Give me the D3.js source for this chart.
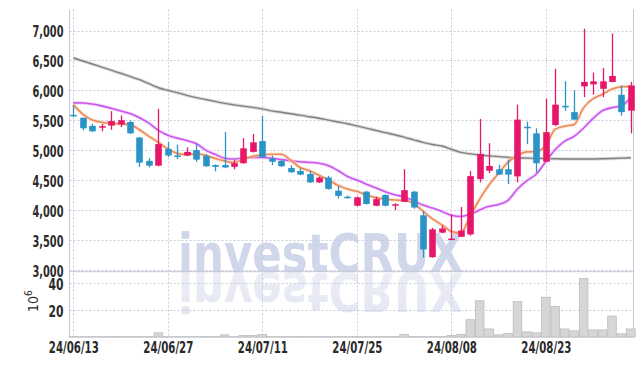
<!DOCTYPE html>
<html>
<head>
<meta charset="utf-8">
<script src="https://cdn.jsdelivr.net/npm/d3@7"></script>
<style>
  body { margin: 0; background: #fff; }
  text { font-family: "DejaVu Sans", sans-serif; }
</style>
</head>
<body>
<svg id="main-svg" width="643" height="366"></svg>
<script>
// trading days
const dates = [
    '24/06/13', '24/06/14', '24/06/17', '24/06/18', '24/06/19', '24/06/20', '24/06/21', '24/06/24', '24/06/25', '24/06/26',
    '24/06/27', '24/06/28', '24/07/01', '24/07/02', '24/07/03', '24/07/04', '24/07/05', '24/07/08', '24/07/09', '24/07/10',
    '24/07/11', '24/07/12', '24/07/15', '24/07/16', '24/07/17', '24/07/18', '24/07/19', '24/07/22', '24/07/23', '24/07/24',
    '24/07/25', '24/07/26', '24/07/29', '24/07/30', '24/07/31', '24/08/01', '24/08/02', '24/08/05', '24/08/06', '24/08/07',
    '24/08/08', '24/08/09', '24/08/12', '24/08/13', '24/08/14', '24/08/16', '24/08/19', '24/08/20', '24/08/21', '24/08/22',
    '24/08/23', '24/08/26', '24/08/27', '24/08/28', '24/08/29', '24/08/30', '24/09/02', '24/09/03', '24/09/04', '24/09/05'
];

const open = [5590, 5540, 5405, 5390, 5410, 5430, 5470, 5210, 4820, 4740,
    5020, 4910, 4910, 5000, 4905, 4750, 4750, 4720, 4780, 4970,
    5150, 4860, 4820, 4700, 4650, 4600, 4460, 4540, 4320, 4220,
    4070, 4305, 4070, 4250, 4080, 4135, 4305, 3910, 3210, 3620,
    3505, 3550, 3590, 4515, 4655, 4680, 4680, 4560, 5390, 5280,
    4805, 5420, 5740, 5635, 6065, 6100, 6025, 6140, 5925, 5660];
const high = [5745, 5545, 5440, 5440, 5650, 5580, 5495, 5220, 4865, 5690,
    5140, 5090, 5045, 5100, 4935, 4760, 5300, 4835, 5200, 5270,
    5570, 4905, 4830, 4745, 4695, 4650, 4560, 4570, 4400, 4240,
    4225, 4320, 4220, 4260, 4110, 4680, 4320, 3980, 3700, 3740,
    3925, 4050, 4650, 5520, 5115, 4755, 4840, 5760, 5475, 5365,
    5860, 6360, 6150, 6000, 7030, 6295, 6375, 6950, 6080, 6140];
const low = [5550, 5330, 5300, 5315, 5340, 5385, 5270, 4720, 4710, 4730,
    4885, 4850, 4900, 4805, 4720, 4645, 4700, 4680, 4775, 4960,
    4870, 4750, 4720, 4620, 4580, 4450, 4450, 4340, 4190, 4190,
    4060, 4090, 4060, 4060, 3995, 4130, 4020, 3200, 3200, 3610,
    3500, 3545, 3570, 4460, 4615, 4585, 4430, 4460, 5100, 4625,
    4800, 5400, 5660, 5505, 5885, 5925, 5885, 6135, 5575, 5280];
const close = [5570, 5365, 5315, 5400, 5485, 5500, 5280, 4790, 4740, 5100,
    4910, 4900, 4970, 4840, 4730, 4720, 4710, 4780, 5030, 5130,
    4880, 4805, 4730, 4630, 4590, 4460, 4540, 4350, 4235, 4200,
    4210, 4100, 4180, 4070, 4095, 4330, 4040, 3340, 3675, 3690,
    3520, 3655, 4565, 4935, 4735, 4590, 4590, 5510, 5375, 4780,
    5300, 5760, 5730, 5510, 6140, 6150, 6150, 6240, 5635, 6080];

// moving averages
const maShort = [5760, 5600, 5505, 5466, 5450, 5437, 5426, 5340, 5230, 5130,
    5020, 4945, 4925, 4940, 4910, 4860, 4820, 4790, 4850, 4895,
    4920, 4930, 4930, 4830, 4710, 4655, 4580, 4500, 4410, 4350,
    4310, 4250, 4205, 4180, 4165, 4160, 4110, 3980, 3850, 3750,
    3640, 3615, 3900, 4180, 4420, 4610, 4800, 4910, 4970, 4975,
    5080, 5350, 5400, 5430, 5710, 5860, 5935, 6020, 6060, 6065];
const maMid = [5790, 5788, 5770, 5740, 5700, 5655, 5610, 5540, 5450, 5330,
    5250, 5200, 5160, 5110, 5000, 4930, 4865, 4850, 4865, 4878,
    4878, 4862, 4840, 4822, 4805, 4795, 4780, 4740, 4660, 4560,
    4500, 4430, 4370, 4305, 4255, 4215, 4150, 4080, 4030, 3975,
    3910, 3890, 3930, 4000, 4060, 4090, 4160, 4350, 4490, 4600,
    4810, 5010, 5150, 5230, 5370, 5530, 5660, 5710, 5740, 5880];
const maLong = [6541, 6490, 6440, 6388, 6336, 6285, 6233, 6177, 6110, 6043,
    6000, 5960, 5915, 5878, 5846, 5814, 5782, 5757, 5735, 5714,
    5690, 5656, 5633, 5607, 5584, 5558, 5533, 5501, 5470, 5441,
    5404, 5367, 5330, 5293, 5256, 5216, 5172, 5129, 5093, 5068,
    5014, 4962, 4937, 4918, 4903, 4891, 4878, 4871, 4866, 4861,
    4858, 4855, 4852, 4850, 4850, 4852, 4855, 4860, 4866, 4871];

// volume, millions
const volume = [0.2, 0.2, 0.2, 0.2, 0.2, 0.2, 0.2, 0.2, 0.2, 3.1,
    0.2, 0.2, 0.2, 0.2, 0.2, 0.2, 1.6, 0.2, 1.1, 1.1,
    1.8, 0.2, 0.2, 0.2, 0.2, 0.2, 0.2, 0.2, 0.2, 0.2,
    0.2, 0.2, 0.2, 0.2, 0.2, 1.8, 0.2, 0.2, 0.2, 0.2,
    1.1, 1.8, 12.9, 27, 6, 1.6, 2.6, 26.3, 3.8, 3.1,
    29.6, 22.7, 6, 4.6, 43.5, 5.3, 5.3, 15.6, 2.4, 6];

const priceTicks = [3000, 3500, 4000, 4500, 5000, 5500, 6000, 6500, 7000];
const volumeTicks = [20, 40];
const dateTicks = ['24/06/13', '24/06/27', '24/07/11', '24/07/25', '24/08/08', '24/08/23'];

const svg = d3.select('#main-svg');

const plotLeft = 69.5, plotRight = 633.5, plotTop = 9.5, plotSplit = 271.7, plotBottom = 337;
const gridColor = '#c6cadf';
const upColor = '#e6176a', downColor = '#2b93c6';

const x = d3.scalePoint().domain(dates).range([73.3, 630.9]);
const y = d3.scaleLinear().domain([3000, 7000]).range([269.7, 30.5]);
const yv = d3.scaleLinear().domain([0, 40]).range([plotBottom, 283.3]);

// watermark with its reflection
const wm = svg.append('g');
const wmDefs = svg.append('defs');
const fade = wmDefs.append('linearGradient').attr('id', 'fade').attr('x1', 0).attr('x2', 0).attr('y1', 0).attr('y2', 1);
fade.append('stop').attr('offset', '0%').attr('stop-color', '#e2e5f1');
fade.append('stop').attr('offset', '100%').attr('stop-color', '#eef0f7');
wm.append('text')
    .attr('x', 178).attr('y', 272)
    .attr('textLength', 285).attr('lengthAdjust', 'spacingAndGlyphs')
    .style('font-family', '"DejaVu Sans", sans-serif')
    .style('font-weight', 'bold').style('font-size', '54px')
    .style('fill', '#d1d7ea')
    .text('investCRUX');
wm.append('text')
    .attr('transform', 'translate(0,545) scale(1,-1)')
    .attr('x', 178).attr('y', 272)
    .attr('textLength', 285).attr('lengthAdjust', 'spacingAndGlyphs')
    .style('font-family', '"DejaVu Sans", sans-serif')
    .style('font-weight', 'bold').style('font-size', '54px')
    .style('fill', 'url(#fade)')
    .text('investCRUX');
// hide the reflection below the volume pane
svg.append('rect').attr('x', plotLeft).attr('y', plotBottom + 0.5).attr('width', 643).attr('height', 40).style('fill', '#fff');

// grid
const grid = svg.append('g').style('stroke', gridColor).style('stroke-dasharray', '2,2').style('stroke-width', 1);
grid.selectAll('.hp').data(priceTicks).enter().append('line')
    .attr('x1', plotLeft).attr('x2', plotRight)
    .attr('y1', d => Math.round(y(d)) + 0.5).attr('y2', d => Math.round(y(d)) + 0.5);
grid.selectAll('.hv').data(volumeTicks).enter().append('line')
    .attr('x1', plotLeft).attr('x2', plotRight)
    .attr('y1', d => Math.round(yv(d)) + 0.5).attr('y2', d => Math.round(yv(d)) + 0.5);
grid.selectAll('.vx').data(dateTicks).enter().append('line')
    .attr('x1', d => Math.round(x(d)) + 0.5).attr('x2', d => Math.round(x(d)) + 0.5)
    .attr('y1', plotTop).attr('y2', plotBottom);

// frame
const frame = svg.append('g').style('stroke', '#c4c6d4').style('fill', 'none');
frame.append('line').attr('x1', plotLeft).attr('x2', plotLeft).attr('y1', plotTop).attr('y2', plotBottom);
frame.append('line').attr('x1', plotRight).attr('x2', plotRight).attr('y1', plotTop).attr('y2', plotBottom);
frame.append('line').attr('x1', plotLeft).attr('x2', plotRight).attr('y1', plotSplit).attr('y2', plotSplit);
frame.append('line').attr('x1', plotLeft).attr('x2', plotRight).attr('y1', plotBottom).attr('y2', plotBottom);

// volume bars
svg.append('g').selectAll('rect').data(volume).enter().append('rect')
    .attr('x', (d, i) => x(dates[i]) - 4.3)
    .attr('width', 8.6)
    .attr('y', d => yv(d))
    .attr('height', d => plotBottom - yv(d))
    .style('fill', '#d6d6d6').style('stroke', '#bdbdbd').style('stroke-width', 0.8);

// moving averages
const line = d3.line().x((d, i) => x(dates[i])).y(d => y(d)).curve(d3.curveMonotoneX);
const maLines = [
    { values: maLong, color: '#808080', glow: '#cfcfcf', width: 1.4 },
    { values: maMid, color: '#cc55ee', glow: '#ecc8f8', width: 1.6 },
    { values: maShort, color: '#ee8a55', glow: '#f8d4c0', width: 1.6 }
];
maLines.forEach(m => {
    svg.append('path').attr('d', line(m.values))
        .style('fill', 'none').style('stroke', m.glow).style('stroke-width', 3.5).style('opacity', 0.7);
    svg.append('path').attr('d', line(m.values))
        .style('fill', 'none').style('stroke', m.color).style('stroke-width', m.width);
});

// candles
svg.append('g')
    .selectAll('.candle')
    .data(dates)
    .enter()
    .append('g')
    .attr('class', 'candle')
    .each(function (d, i) {
        const g = d3.select(this);
        const c = close[i] >= open[i] ? upColor : downColor;
        const cx = Math.round(x(d)) + 0.5;
        g.append('line')
            .attr('x1', cx).attr('x2', cx)
            .attr('y1', y(high[i])).attr('y2', y(low[i]))
            .style('stroke', c).style('stroke-width', 1.3);
        const y0 = y(Math.max(open[i], close[i]));
        const y1 = y(Math.min(open[i], close[i]));
        g.append('rect')
            .attr('x', cx - 3.3).attr('width', 6.6)
            .attr('y', y0).attr('height', Math.max(1.5, y1 - y0))
            .style('fill', c);
    });

// axes, squeezed to the narrow face of the original
const fontColor = '#2a2a2a';
const yAxis = svg.append('g').attr('transform', `translate(${plotLeft},0)`)
    .call(d3.axisLeft(y).tickValues(priceTicks).tickFormat(d3.format(',')).tickSize(0).tickPadding(6));
const vAxis = svg.append('g').attr('transform', `translate(${plotLeft},0)`)
    .call(d3.axisLeft(yv).tickValues(volumeTicks).tickSize(0).tickPadding(6));
const xAxis = svg.append('g').attr('transform', `translate(0,${plotBottom})`)
    .call(d3.axisBottom(x).tickValues(dateTicks).tickSize(0).tickPadding(5));
[yAxis, vAxis, xAxis].forEach(a => {
    a.select('.domain').remove();
    a.selectAll('text').style('font-size', '16px').style('fill', fontColor)
        .style('font-family', '"DejaVu Sans", sans-serif').style('font-stretch', 'condensed')
        .style('font-weight', 'bold')
        .attr('lengthAdjust', 'spacingAndGlyphs')
        .attr('textLength', function () { const s = this.textContent; return s.includes('/') ? 50 : (s.length === 2 ? 15 : 31); });
});
yAxis.selectAll('text').attr('dy', '0.4em');
vAxis.selectAll('text').attr('dy', '0.4em');

// volume unit label
const unit = svg.append('text')
    .attr('transform', 'translate(38,312) rotate(-90)')
    .style('font-size', '14px').style('fill', fontColor).style('font-stretch', 'condensed');
unit.append('tspan').text('10');
unit.append('tspan').attr('dy', -6).style('font-size', '10px').text('6');
</script>
</body>
</html>
